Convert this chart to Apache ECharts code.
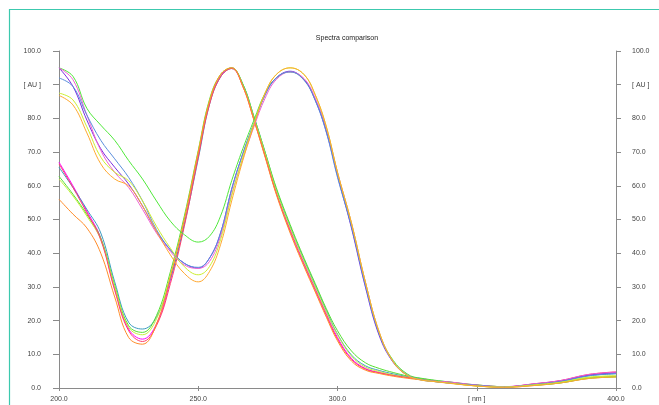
<!DOCTYPE html>
<html>
<head>
<meta charset="utf-8">
<script src="https://cdn.jsdelivr.net/npm/echarts@6/dist/echarts.min.js"></script>
<style>
  html, body { margin: 0; padding: 0; background: #fff; }
  #chart-container { width: 659px; height: 405px; }
</style>
</head>
<body>
<div id="chart-container"></div>
<script>
// wavelength grid [nm], a bit denser around the two maxima
const wavelengths = [200, 205, 210, 215, 220, 225, 230, 235, 240, 245, 250, 254, 258, 262, 266, 270, 274, 278, 283, 288, 292, 296, 300, 305, 310, 315, 320, 325, 330, 335, 340, 350, 360, 370, 380, 390, 400];

// first group, max near 262 nm
const magentaA = [67, 60, 52.5, 44.5, 29.5, 17.5, 14.5, 19, 32, 49, 69, 84.5, 92.5, 95, 89.8, 80, 69, 58, 47, 37, 29.5, 22, 15, 8.8, 5.8, 4.6, 3.8, 3.2, 2.6, 2, 1.6, 0.8, 0.4, 1.1, 2.1, 3.8, 4.6];
const tealA = [65.5, 59.5, 53, 46, 31.5, 19.5, 17.5, 21, 32.5, 48.5, 68, 84, 92.3, 94.8, 90.2, 80.5, 70, 59, 48, 38, 30.5, 23, 16, 9.8, 6.6, 5.2, 4.2, 3.4, 2.8, 2.2, 1.8, 0.7, 0.3, 1.0, 2.0, 3.6, 4.2];
const greenA = [62.8, 57.5, 51.5, 44.5, 30.5, 18.5, 16.5, 21.5, 34.5, 51, 70.5, 85.5, 93, 95, 90.2, 80.5, 70, 59.5, 48.5, 38.5, 31, 23.5, 17, 11, 7.5, 5.8, 4.6, 3.6, 2.9, 2.3, 1.8, 0.9, 0.4, 0.8, 1.6, 3.0, 3.4];
const yellowA = [62, 57, 51, 44, 30, 18, 15.8, 20.5, 33.5, 50, 70, 85, 93, 95, 89.8, 80, 69.5, 58.5, 47.5, 37.5, 30, 22.5, 15.8, 9.5, 6.2, 4.9, 3.9, 3.2, 2.6, 2, 1.5, 0.6, 0.3, 0.9, 1.7, 3.2, 3.6];
const redA = [66.5, 59.5, 52, 44, 29, 17, 13.8, 18.5, 31, 48, 68.5, 84, 92.3, 94.8, 89.5, 79.5, 68.8, 57.8, 46.5, 36.5, 29, 21.5, 14.5, 8.5, 5.6, 4.5, 3.7, 3.1, 2.5, 2.0, 1.7, 0.8, 0.3, 1.2, 2.2, 4.0, 4.8];
const orangeA = [56, 51.6, 47.5, 40, 27, 15, 13, 19, 33, 50, 70, 85, 93, 95, 89.5, 79.5, 68.5, 57.5, 46, 36, 28.5, 21, 14, 8, 5.3, 4.3, 3.5, 2.9, 2.4, 1.9, 1.5, 0.6, 0.2, 0.7, 1.5, 2.8, 3.3];

// second group, max near 283 nm
const greenB = [95, 92.5, 83, 78, 73.5, 67.5, 62, 55.5, 49.5, 45.5, 43.3, 45, 51, 61.5, 71, 79.5, 87.5, 92, 93.8, 91.5, 85.5, 76.5, 63.5, 48, 31, 16, 8.2, 4.2, 2.6, 2.0, 1.6, 0.9, 0.4, 0.8, 1.5, 2.9, 3.3];
const purpleB = [95, 89.5, 79.5, 71, 65.5, 60.5, 54, 46.5, 41, 37, 35.6, 38.5, 46, 59, 69.5, 78.5, 87, 92, 94, 91.5, 85.5, 76, 63, 47.5, 30, 15.5, 7.6, 3.8, 2.4, 1.9, 1.5, 0.8, 0.3, 1.1, 2.1, 3.8, 4.5];
const pinkB = [95, 91.5, 81, 70.5, 64, 59.5, 53, 46, 40.5, 36.5, 35.5, 37.5, 45, 57.5, 68, 77.5, 86, 91.5, 93.8, 91.8, 86, 77, 64, 49, 31.5, 16.5, 7.8, 3.8, 2.5, 2.0, 1.8, 0.9, 0.4, 1.2, 2.2, 4.0, 4.7];
const blueB = [92, 89.5, 81, 73.5, 68, 62.5, 55.5, 47, 41, 37, 35.8, 38.5, 46, 59, 69.5, 78.5, 87, 92, 93.8, 91.3, 85.3, 75.8, 62.5, 48, 30.5, 16, 7.8, 3.9, 2.5, 1.9, 1.5, 0.8, 0.3, 1.0, 1.9, 3.6, 4.3];
const yellowB = [87.5, 85.5, 77.5, 68.5, 64, 61.5, 55.5, 48, 41.5, 36, 33.6, 36, 44, 57, 68.5, 78.5, 87.5, 93, 95, 93, 87, 77.5, 64, 49, 31.5, 16.5, 7.8, 3.8, 2.4, 1.9, 1.5, 0.6, 0.3, 0.9, 1.7, 3.1, 3.6];
const orangeB = [86.8, 84, 75.7, 66.5, 62, 60, 54, 46.5, 39.5, 34, 31.5, 34.5, 42.5, 55.5, 67.5, 78, 87.5, 93, 95, 93, 87, 77.5, 64, 49, 31.5, 16.5, 7.8, 3.8, 2.4, 1.9, 1.4, 0.6, 0.2, 0.7, 1.5, 2.8, 3.3];

const spectra = [
    ['A1', magentaA, '#ff00ff'],
    ['A2', tealA, '#3c9cc0'],
    ['A3', greenA, '#55e030'],
    ['A4', yellowA, '#c4ef3c'],
    ['A5', redA, '#ff3f6c'],
    ['A6', orangeA, '#ff8c2a'],
    ['B1', greenB, '#4fe83a'],
    ['B2', purpleB, '#7a2ee0'],
    ['B3', pinkB, '#f060d0'],
    ['B4', blueB, '#5a8edc'],
    ['B5', yellowB, '#ccee30'],
    ['B6', orangeB, '#ffa830']
];

const axisColor = '#8a8a8a';
const labelStyle = { color: '#444', fontSize: 7, fontFamily: 'Liberation Sans, Arial, sans-serif' };

function yLabel(v) {
    return v === 90 ? '[ AU ]' : v.toFixed(1);
}

const chart = echarts.init(document.querySelector('#chart-container'), null, { renderer: 'canvas' });

chart.setOption({
    animation: false,
    backgroundColor: '#fff',
    title: {
        text: 'Spectra comparison',
        left: 342,
        top: 30,
        textAlign: 'center',
        textStyle: { color: '#222', fontSize: 7, fontWeight: 'normal', fontFamily: 'Liberation Sans, Arial, sans-serif' }
    },
    graphic: [{
        type: 'polyline',
        shape: { points: [[9.5, 405], [9.5, 9.5], [659, 9.5]] },
        style: { stroke: '#3cc9ae', lineWidth: 1.2, fill: null },
        silent: true
    }],
    grid: { left: 59, right: 43, top: 51, bottom: 17 },
    xAxis: [{
        type: 'value',
        min: 200,
        max: 400,
        interval: 50,
        position: 'bottom',
        splitLine: { show: false },
        axisLine: { lineStyle: { color: axisColor } },
        axisTick: { length: 3, lineStyle: { color: axisColor } },
        axisLabel: Object.assign({
            margin: 8,
            formatter: function (v) { return v === 350 ? '[ nm ]' : v.toFixed(1); }
        }, labelStyle)
    }, {
        type: 'value',
        min: 200,
        max: 400,
        interval: 50,
        position: 'top',
        splitLine: { show: false },
        axisLine: { lineStyle: { color: axisColor } },
        axisTick: { length: 2, lineStyle: { color: axisColor } },
        axisLabel: { show: false }
    }],
    yAxis: [{
        type: 'value',
        min: 0,
        max: 100,
        interval: 10,
        position: 'left',
        splitLine: { show: false },
        axisLine: { show: true, lineStyle: { color: axisColor } },
        axisTick: { show: true, length: 6, lineStyle: { color: axisColor } },
        axisLabel: Object.assign({ margin: 18, formatter: yLabel }, labelStyle)
    }, {
        type: 'value',
        min: 0,
        max: 100,
        interval: 10,
        position: 'right',
        splitLine: { show: false },
        axisLine: { show: true, lineStyle: { color: axisColor } },
        axisTick: { show: true, length: 5, lineStyle: { color: axisColor } },
        axisLabel: Object.assign({ margin: 16, formatter: yLabel }, labelStyle)
    }],
    series: spectra.map(function (s) {
        return {
            name: s[0],
            type: 'line',
            xAxisIndex: 0,
            yAxisIndex: 0,
            smooth: 0.4,
            symbol: 'none',
            lineStyle: { width: 1, color: s[2] },
            itemStyle: { color: s[2] },
            data: wavelengths.map(function (w, i) { return [w, s[1][i]]; })
        };
    })
});
</script>
</body>
</html>
